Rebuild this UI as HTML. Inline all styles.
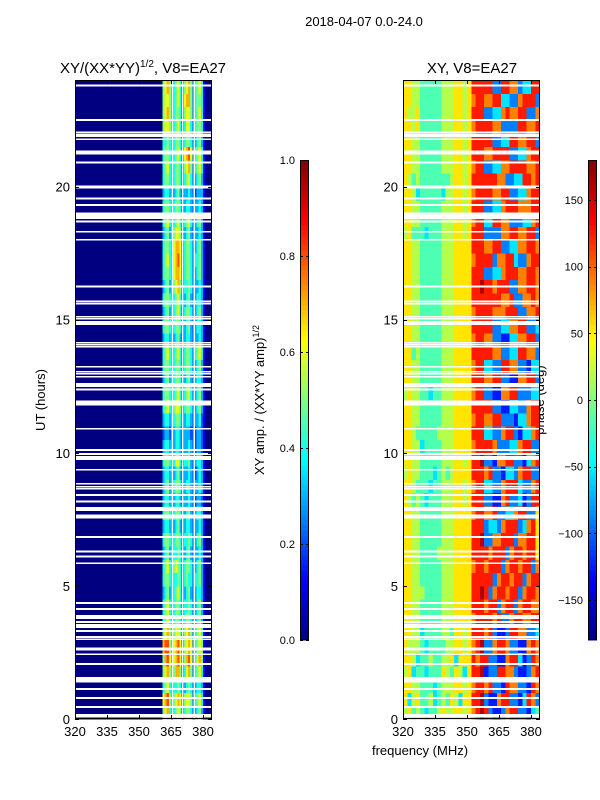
<!DOCTYPE html>
<html><head><meta charset="utf-8"><style>
html,body{margin:0;padding:0;background:#fff;}
svg{display:block;font-family:"Liberation Sans","DejaVu Sans",sans-serif;}
</style></head><body>
<svg id="fig" width="600" height="800" viewBox="0 0 600 800" xmlns="http://www.w3.org/2000/svg" shape-rendering="crispEdges">
<rect width="600" height="800" fill="#fff"/>
<text x="364" y="26" font-size="13" text-anchor="middle">2018-04-07 0.0-24.0</text>
<text x="143" y="73" font-size="15" text-anchor="middle">XY/(XX*YY)<tspan font-size="10" dy="-6">1/2</tspan><tspan dy="6">, V8=EA27</tspan></text>
<text x="472" y="73" font-size="15" text-anchor="middle">XY, V8=EA27</text>
<text transform="translate(45,400) rotate(-90)" font-size="13" text-anchor="middle">UT (hours)</text>
<text x="420" y="755" font-size="13" text-anchor="middle">frequency (MHz)</text>
<text transform="translate(264,400) rotate(-90)" font-size="13" text-anchor="middle">XY amp. / (XX*YY amp)<tspan font-size="9" dy="-5">1/2</tspan></text>
<text transform="translate(544,400) rotate(-90)" font-size="13" text-anchor="middle">phase (deg)</text>
<g id="layer"></g>
</svg>
<script>
// ---- data ----
const utBinHours = [0.5];
const ampFreqEdges = [320,361,362,363,364,365,366,367,368,369,370,371,372,373,374,375,376,377,378,379,380,381,382,383,384];
// amplitude digits d -> d/10, rows from 0h upward (0.5 h each)
const ampRows = [
"056742456524554234531000","067852567625665245641000","045642445423454234431000","056752577524675245641000",
"057862678625786246751000","078852678625676245651000","056752566525675245641000","045642455424554234531000",
"045642455424454234531000","034532456423453234431000","045542445424544244531000","045642565424554234531000",
"034532445423453233431000","045542455424454234531000","034432345323443233431000","045542455423453234431000",
"034432344323343223321000","034532455423443233431000","034432345323343223431000","045542466424453234431000",
"034432344323343223321000","023322344323332223321000","034432455423443233421000","045642566524554234531000",
"045542456424564234531000","034532455423453234431000","045542455424554234531000","045642456424554245641000",
"034432345323443233431000","045542455423453234431000","034532456424554234531000","045542456423453234431000",
"034532567524454233431000","045542677624554234531000","045642678624554244531000","045542677624554234531000",
"034532566523453233431000","045642456424564234531000","045542455423443233431000","034432345323343223331000",
"045542455424564234531000","045642455425675245641000","045542456426786245641000","044542455424554234531000",
"056652456424664245541000","056752455425665245641000","056652456426775245541000","056752456425675245641000"];
const flaggedChannels = [365.5, 370.6, 375.8];
const phaseFreqStart = [320];
const phaseFreqStep = [2];
// phase digits d -> -162 + 36*d deg
const phaseRows = [
"56454344565566567898211278822134","63564453454653668892117882213872","66554443455566567887822187722187","56344344465465368891228877211278",
"66534454455636668788221178831287","65554344445566567892278872211787","66553444455466568887821128877223","66554444455566667888878227887788",
"66554444455566668887882788278877","66555444455566668898278878827887","66554444455566668888827887882788","66554444455566667887888278878827",
"66554444555566668888788827887886","66554444455566668892277888277886","66554444455566668882332788823786","66554444455566667887782233788226",
"65454344455566568882211782231288","66544434455566567883322788832278","56554443454566668887822133278822","66554444455566568892217788221378",
"66553444455566667888872223378822","66544444555566668883322788213378","66554444455566667887788222133788","66554444455566668888822113322788",
"56554434455566667882211778822233","66554444455566668887788221177882","66554444455566667883322887722133","66454444455566668888877223388772",
"66554444455566667887722113377882","66554444455566668888822337788223","66554444455566667888877788822778","66554444455566668888888778227787",
"66554444455566668898878882277887","66554444455566668882233788877887","66554444455566667888827788322788","66554444455566668887788223377887",
"56444344455566568882222778877882","66554444455566567883388772223378","66554444455566568882233788877788","66534444435566567888877882233788",
"65454444444566568888887722338878","66554444455566567882233778888778","66554444455566568887788882233788","66554444455566568888822338877882",
"66564444455566567888877222288778","65564444455566568882233787788227","66554444455566567887788332278882","66554444455566568888822887723388"];
// flagged (blank) times: [UT hour, width in hours]
const gapHours = [0.08,0.15,0.45,0.79,1.12,1.47,2.07,2.43,2.63,3.0,3.08,3.3,3.49,3.64,3.83,4.13,4.36,5.85,6.1,6.29,6.83,7.6,7.88,8.17,8.41,8.65,8.73,8.83,9.36,9.8,9.95,10.11,10.9,11.87,12.37,12.55,12.86,12.97,13.04,13.23,13.98,14.06,14.13,14.88,15.03,15.11,15.6,15.68,16.24,18.0,18.3,18.68,18.9,19.3,19.55,19.96,20.0,20.9,21.28,21.77,21.88,21.95,22.03,22.5,23.8];
const gapWidths = [0.06,0.06,0.07,0.07,0.07,0.2,0.07,0.07,0.12,0.06,0.06,0.07,0.15,0.07,0.15,0.07,0.07,0.07,0.07,0.07,0.07,0.15,0.15,0.07,0.07,0.06,0.06,0.06,0.07,0.15,0.07,0.07,0.07,0.2,0.07,0.15,0.06,0.06,0.06,0.07,0.06,0.06,0.06,0.15,0.06,0.06,0.06,0.06,0.07,0.07,0.07,0.07,0.25,0.07,0.07,0.06,0.06,0.07,0.15,0.06,0.06,0.06,0.06,0.07,0.07];
const xTicks = [320,335,350,365,380];
const yTicks = [0,5,10,15,20];
const ampCbTicks = [0.0,0.2,0.4,0.6,0.8,1.0];
const phaseCbTicks = [-150,-100,-50,0,50,100,150];

// ---- layout ----
const NS = "http://www.w3.org/2000/svg";
const layer = document.getElementById('layer');
const panelTop = 80, panelBottom = 719, panelW = 137;
const ampLeft = 75, phLeft = 403;
const fMin = 320, fMax = 320 + panelW * 15 / 32, utMax = 24;
function xs(left, f){ return left + (f - fMin) / (fMax - fMin) * panelW; }
function ys(h){ return panelBottom - h / utMax * (panelBottom - panelTop); }
function jet(v){
  v = Math.max(0, Math.min(1, v));
  const c = t => Math.round(255 * Math.max(0, Math.min(1, t)));
  return `rgb(${c(1.5-Math.abs(4*v-3))},${c(1.5-Math.abs(4*v-2))},${c(1.5-Math.abs(4*v-1))})`;
}
function mk(tag, attrs, parent){
  const e = document.createElementNS(NS, tag);
  for (const k in attrs) e.setAttribute(k, attrs[k]);
  (parent || layer).appendChild(e);
  return e;
}

// amplitude heatmap
const gA = mk('g', {});


ampRows.forEach((row, i) => {
  const y0 = ys((i + 1) * utBinHours[0]), y1 = ys(i * utBinHours[0]);
  for (let j = 0; j < ampFreqEdges.length - 1; j++) {
    const d = +row[j];
    const x0 = xs(ampLeft, ampFreqEdges[j]), x1 = Math.min(xs(ampLeft, ampFreqEdges[j+1]), ampLeft + panelW);
    const r = mk('rect', {x: x0, y: y0, width: x1 - x0 + 0.5, height: y1 - y0 + 0.5, fill: jet(d / 10)}, gA);
    
    
  }
});
flaggedChannels.forEach(f => {
  const l = mk('rect', {x: xs(ampLeft, f) - 0.75, y: panelTop, width: 1.5, height: panelBottom - panelTop, fill: '#fff'}, gA);
  
  
});

// phase heatmap
const gP = mk('g', {});


phaseRows.forEach((row, i) => {
  const y0 = ys((i + 1) * utBinHours[0]), y1 = ys(i * utBinHours[0]);
  for (let j = 0; j < row.length; j++) {
    const ph = -162 + 36 * (+row[j]);
    const f0 = phaseFreqStart[0] + j * phaseFreqStep[0];
    const x0 = xs(phLeft, f0), x1 = Math.min(xs(phLeft, f0 + phaseFreqStep[0]), phLeft + panelW);
    if (x1 <= x0) continue;
    const r = mk('rect', {x: x0, y: y0, width: x1 - x0 + 0.5, height: y1 - y0 + 0.5, fill: jet((ph + 180) / 360)}, gP);
    
    
  }
});

// flagged times (both panels)
[ampLeft, phLeft].forEach(left => {
  gapHours.forEach((h, k) => {
    const w = gapWidths[k];
    const g = mk('rect', {x: left, y: ys(h + w / 2), width: panelW, height: Math.max(1.5, ys(h - w / 2) - ys(h + w / 2)), fill: '#fff'});
    
    
  });
});

// axes frames, ticks, labels
[[ampLeft, 'amp'], [phLeft, 'phase']].forEach(([left, nm]) => {
  const fr = mk('rect', {x: left + 0.5, y: panelTop + 0.5, width: panelW - 1, height: panelBottom - panelTop - 1, fill: 'none', stroke: '#000', 'stroke-width': 1});
  
  
  xTicks.forEach(t => {
    const x = Math.round(xs(left, t)) + 0.5;
    mk('line', {x1: x, x2: x, y1: panelBottom, y2: panelBottom - 4, stroke: '#000'});
    mk('line', {x1: x, x2: x, y1: panelTop, y2: panelTop + 4, stroke: '#000'});
    const tx = mk('text', {x: xs(left, t), y: panelBottom + 17, 'font-size': 13, 'text-anchor': 'middle'});
    tx.textContent = t;
    
    
  });
  yTicks.forEach(t => {
    const y = Math.round(ys(t)) + 0.5;
    mk('line', {x1: left, x2: left + 4, y1: y, y2: y, stroke: '#000'});
    mk('line', {x1: left + panelW, x2: left + panelW - 4, y1: y, y2: y, stroke: '#000'});
    const tx = mk('text', {x: left - 5, y: ys(t) + 5, 'font-size': 13, 'text-anchor': 'end'});
    tx.textContent = t;
    
    
  });
});

// colorbars
const cbTop = 160, cbBottom = 640, cbW = 9;
function colorbar(left, lo, hi, ticks, nm){
  const g = mk('g', {});
  
  
  const n = 96;
  for (let i = 0; i < n; i++) {
    const y0 = cbBottom - (i + 1) / n * (cbBottom - cbTop);
    mk('rect', {x: left, y: y0, width: cbW, height: (cbBottom - cbTop) / n + 0.6, fill: jet((i + 0.5) / n)}, g);
  }
  mk('rect', {x: left + 0.5, y: cbTop + 0.5, width: cbW - 1, height: cbBottom - cbTop - 1, fill: 'none', stroke: '#000'}, g);
  ticks.forEach(t => {
    const yy = cbBottom - (t - lo) / (hi - lo) * (cbBottom - cbTop);
    const y = Math.round(yy) + 0.5;
    mk('line', {x1: left, x2: left + 3, y1: y, y2: y, stroke: '#000'}, g);
    mk('line', {x1: left + cbW, x2: left + cbW - 3, y1: y, y2: y, stroke: '#000'}, g);
    const tx = mk('text', {x: left - 5, y: yy + 4, 'font-size': 11, 'text-anchor': 'end'}, g);
    tx.textContent = (Number.isInteger(t) && Math.abs(hi) > 2) ? String(t).replace('-', '\u2212') : t.toFixed(1);
    
    
  });
}
colorbar(300, 0, 1, ampCbTicks, 'amp-colorbar');
colorbar(588, -180, 180, phaseCbTicks, 'phase-colorbar');
</script>
</body></html>
